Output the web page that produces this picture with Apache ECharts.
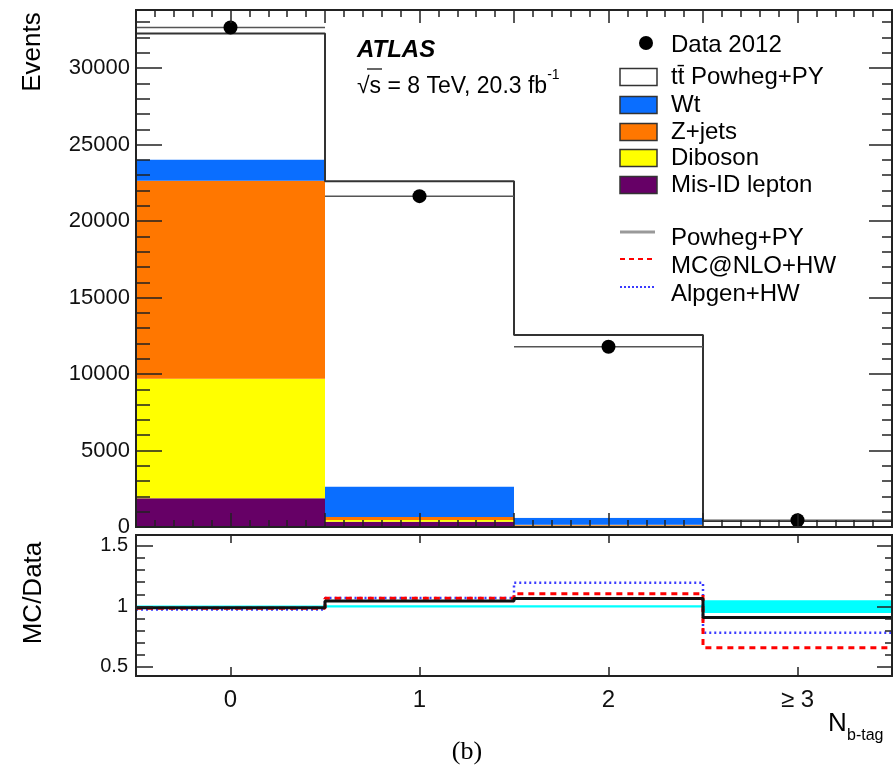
<!DOCTYPE html>
<html>
<head>
<meta charset="utf-8">
<script src="https://cdn.jsdelivr.net/npm/echarts@6/dist/echarts.min.js"></script>
<style>html,body{margin:0;padding:0;background:#fff}#c{width:895px;height:774px}</style>
</head>
<body>
<div id="c"></div>
<script>
// ---- data ----
const categories = ['0', '1', '2', '\u2265 3'];
const binCenters = [0, 1, 2, 3];
const misID   = [1880, 350, 80, 20];
const diboson = [7820, 100, 20, 5];
const zjets   = [12930, 200, 50, 10];
const wt      = [1400, 2000, 460, 35];
const ttbar   = [8240, 19960, 11940, 330];
const data2012 = [32660, 21630, 11780, 440];

const ratioPowheg = [0.988, 1.045, 1.065, 0.908];
const ratioMCNLO  = [0.984, 1.068, 1.105, 0.659];
const ratioAlpgen = [0.975, 1.070, 1.196, 0.783];
const bandLo = [0.993, 0.990, 0.990, 0.945];
const bandHi = [1.007, 1.010, 1.010, 1.050];

const yMajorTicks = [0, 5000, 10000, 15000, 20000, 25000, 30000];
const yMinorStep = 1000;
const rMajorTicks = [0.5, 1, 1.5];
const rMinorStep = 0.1;

// ---- helpers ----
const FONT = '"Liberation Sans", Arial, Helvetica, sans-serif';
const yMax = 33800, rMin = 0.425, rMax = 1.59;
const yMinorTicks = [];
for (let v = yMinorStep; v < yMax; v += yMinorStep) if (v % 5000 !== 0) yMinorTicks.push(v);
const rMinorTicks = [];
for (let k = 5; k <= 15; k++) { const v = +(k * rMinorStep).toFixed(2); if (v > rMin && v < rMax && rMajorTicks.indexOf(v) < 0) rMinorTicks.push(v); }

const comps = [
  {name: 'Mis-ID lepton', vals: misID, color: '#660066'},
  {name: 'Diboson', vals: diboson, color: '#ffff00'},
  {name: 'Z+jets', vals: zjets, color: '#ff7700'},
  {name: 'Wt', vals: wt, color: '#0a6eff'},
  {name: 'ttbar', vals: ttbar, color: '#ffffff'}
];
const base = binCenters.map(() => 0);
const stackSeries = comps.map(c => {
  const d = binCenters.map((x, i) => { const lo = base[i]; base[i] += c.vals[i]; return [x, lo, base[i]]; });
  return {
    type: 'custom', name: c.name, xAxisIndex: 0, yAxisIndex: 0, z: 2,
    data: d,
    renderItem: (p, api) => {
      const x = api.value(0), lo = api.value(1), hi = api.value(2);
      const a = api.coord([x - 0.5, hi]), b = api.coord([x + 0.5, lo]);
      return {type: 'rect', shape: {x: a[0], y: a[1], width: b[0] - a[0], height: b[1] - a[1]}, style: {fill: c.color}};
    }
  };
});
const totals = base.slice();

function steps(vals) {
  const pts = [];
  vals.forEach((v, i) => { pts.push([binCenters[i] - 0.5, v]); pts.push([binCenters[i] + 0.5, v]); });
  return pts;
}

const axisCol = '#222';
function xAx(grid, pos, opts) {
  return Object.assign({
    gridIndex: grid, type: 'value', position: pos, min: -0.5, max: 3.5, z: 10,
    axisLine: {show: true, onZero: false, lineStyle: {color: axisCol, width: 2}},
    splitLine: {show: false}, minorSplitLine: {show: false},
    axisLabel: {show: false}
  }, opts);
}
function yAx(grid, pos, min, max, ticks, len, labels, extra) {
  return Object.assign({
    gridIndex: grid, type: 'value', position: pos, min: min, max: max, z: 10,
    axisLine: {show: true, onZero: false, lineStyle: {color: axisCol, width: 2}},
    axisTick: {show: true, inside: true, length: len, customValues: ticks, lineStyle: {color: axisCol, width: 1.5}},
    splitLine: {show: false}, minorSplitLine: {show: false},
    axisLabel: labels ? Object.assign({show: true, customValues: ticks, color: '#111', fontFamily: FONT,
      formatter: v => String(v)}, labels) : {show: false}
  }, extra || {});
}

const chart = echarts.init(document.getElementById('c'), null, {renderer: 'canvas'});

const graphic = [];
function txt(x, y, text, size, extra) {
  return {type: 'text', x: x, y: y, z: 100,
    style: Object.assign({text: text, fontSize: size, fontFamily: FONT, fill: '#000',
      align: 'left', verticalAlign: 'middle', textAlign: 'left', textVerticalAlign: 'middle'}, extra || {})};
}
// axis titles
graphic.push(Object.assign(txt(33, 52, 'Events', 26, {align: 'center', textAlign: 'center'}), {rotation: Math.PI / 2}));
graphic.push(Object.assign(txt(34, 593, 'MC/Data', 26, {align: 'center', textAlign: 'center'}), {rotation: Math.PI / 2}));
graphic.push(txt(828, 724, 'N', 26));
graphic.push(txt(847, 736, 'b-tag', 16));
graphic.push(txt(467, 752, '(b)', 26, {align: 'center', textAlign: 'center', fontFamily: '"Liberation Serif", "DejaVu Serif", serif'}));
// ATLAS label
graphic.push(txt(357, 50, 'ATLAS', 24, {fontWeight: 'bold', fontStyle: 'italic'}));
graphic.push({type: 'text', x: 357, y: 83, z: 100, style: {
  text: '{a|\u221As = 8 TeV, 20.3 fb}{b|-1}', fontFamily: FONT, align: 'left', verticalAlign: 'middle',
  textAlign: 'left', textVerticalAlign: 'middle',
  rich: {a: {fontSize: 23, fontFamily: FONT, fill: '#000', lineHeight: 30, verticalAlign: 'bottom'},
         b: {fontSize: 14, fontFamily: FONT, fill: '#000', verticalAlign: 'top'}}
}});
graphic.push({type: 'line', z: 100, shape: {x1: 367, y1: 69, x2: 382, y2: 69}, style: {stroke: '#000', lineWidth: 1.2}});
// legend
graphic.push({type: 'circle', z: 100, shape: {cx: 646, cy: 43, r: 7}, style: {fill: '#000'}});
graphic.push(txt(671, 45, 'Data 2012', 24));
const legRows = [
  {label: 'tt\u0304 Powheg+PY', color: '#ffffff', y: 77},
  {label: 'Wt', color: '#0a6eff', y: 105},
  {label: 'Z+jets', color: '#ff7700', y: 132},
  {label: 'Diboson', color: '#ffff00', y: 158},
  {label: 'Mis-ID lepton', color: '#660066', y: 185}
];
legRows.forEach(r => {
  graphic.push({type: 'rect', z: 100, shape: {x: 620, y: r.y - 8.5, width: 37, height: 17}, style: {fill: r.color, stroke: '#333', lineWidth: 1.5}});
  graphic.push(txt(671, r.y, r.label, 24));
});
graphic.push({type: 'line', z: 100, shape: {x1: 620, y1: 232, x2: 655, y2: 232}, style: {stroke: '#999', lineWidth: 3}});
graphic.push(txt(671, 238, 'Powheg+PY', 24));
graphic.push({type: 'line', z: 100, shape: {x1: 620, y1: 259, x2: 655, y2: 259}, style: {stroke: '#ff0000', lineWidth: 2, lineDash: [5, 4]}});
graphic.push(txt(671, 266, 'MC@NLO+HW', 24));
graphic.push({type: 'line', z: 100, shape: {x1: 620, y1: 287, x2: 655, y2: 287}, style: {stroke: '#3a3aff', lineWidth: 2, lineDash: [2, 2]}});
graphic.push(txt(671, 294, 'Alpgen+HW', 24));

const option = {
  animation: false,
  backgroundColor: '#fff',
  textStyle: {fontFamily: FONT},
  grid: [
    {left: 136, top: 10, width: 756, height: 517},
    {left: 136, top: 535, width: 756, height: 141}
  ],
  xAxis: [
    xAx(0, 'bottom', {interval: 0.5, axisTick: {show: true, inside: true, length: 14, lineStyle: {color: axisCol, width: 1.5}},
      minorTick: {show: true, splitNumber: 5, length: 7, lineStyle: {color: axisCol, width: 1.5}}}),
    xAx(0, 'top', {interval: 0.5, axisTick: {show: true, inside: true, length: 13, lineStyle: {color: axisCol, width: 1.5}},
      minorTick: {show: true, splitNumber: 5, length: 7, lineStyle: {color: axisCol, width: 1.5}}}),
    xAx(1, 'bottom', {axisTick: {show: true, inside: true, length: 9, customValues: binCenters, lineStyle: {color: axisCol, width: 1.5}},
      axisLabel: {show: true, customValues: binCenters, fontSize: 24, margin: 12, color: '#111', fontFamily: FONT,
        formatter: v => categories[binCenters.indexOf(Math.round(v))]}}),
    xAx(1, 'top', {axisTick: {show: true, inside: true, length: 8, customValues: binCenters, lineStyle: {color: axisCol, width: 1.5}}})
  ],
  yAxis: [
    yAx(0, 'left', 0, yMax, yMajorTicks, 26, {fontSize: 22, margin: 6}, {interval: 5000}),
    yAx(0, 'left', 0, yMax, yMinorTicks, 14, null),
    yAx(0, 'right', 0, yMax, yMajorTicks, 23, null),
    yAx(0, 'right', 0, yMax, yMinorTicks, 10, null),
    yAx(1, 'left', rMin, rMax, rMajorTicks, 17, {fontSize: 20, margin: 8}),
    yAx(1, 'left', rMin, rMax, rMinorTicks, 9, null),
    yAx(1, 'right', rMin, rMax, rMajorTicks, 15, null),
    yAx(1, 'right', rMin, rMax, rMinorTicks, 7, null)
  ],
  series: stackSeries.concat([
    {type: 'line', name: 'total', xAxisIndex: 0, yAxisIndex: 0, z: 3, symbol: 'none',
     data: steps(totals), lineStyle: {color: '#333', width: 2}},
    {type: 'custom', name: 'dataErr', xAxisIndex: 0, yAxisIndex: 0, z: 4,
     data: binCenters.map((x, i) => [x, data2012[i]]),
     renderItem: (p, api) => {
       const a = api.coord([api.value(0) - 0.5, api.value(1)]), b = api.coord([api.value(0) + 0.5, api.value(1)]);
       return {type: 'line', shape: {x1: a[0], y1: a[1], x2: b[0], y2: b[1]}, style: {stroke: '#555', lineWidth: 1.5}};
     }},
    {type: 'scatter', name: 'Data 2012', xAxisIndex: 0, yAxisIndex: 0, z: 5, symbol: 'circle', symbolSize: 14,
     itemStyle: {color: '#000', opacity: 1}, data: binCenters.map((x, i) => [x, data2012[i]])},
    {type: 'custom', name: 'band', xAxisIndex: 2, yAxisIndex: 4, z: 2,
     data: binCenters.map((x, i) => [x, bandLo[i], bandHi[i]]),
     renderItem: (p, api) => {
       const x = api.value(0);
       const a = api.coord([x - 0.5, api.value(2)]), b = api.coord([x + 0.5, api.value(1)]);
       return {type: 'rect', shape: {x: a[0], y: a[1], width: b[0] - a[0], height: b[1] - a[1]}, style: {fill: '#00ffff'}};
     }},
    {type: 'line', name: 'Alpgen+HW', xAxisIndex: 2, yAxisIndex: 4, z: 3, symbol: 'none',
     data: steps(ratioAlpgen), lineStyle: {color: '#3a3aff', width: 2.5, type: [2, 3]}},
    {type: 'line', name: 'MC@NLO+HW', xAxisIndex: 2, yAxisIndex: 4, z: 4, symbol: 'none',
     data: steps(ratioMCNLO), lineStyle: {color: '#ff0000', width: 3, type: [6, 5]}},
    {type: 'line', name: 'Powheg+PY', xAxisIndex: 2, yAxisIndex: 4, z: 5, symbol: 'none',
     data: steps(ratioPowheg), lineStyle: {color: '#111', width: 3}}
  ]),
  graphic: graphic
};
chart.setOption(option);
</script>
</body>
</html>
